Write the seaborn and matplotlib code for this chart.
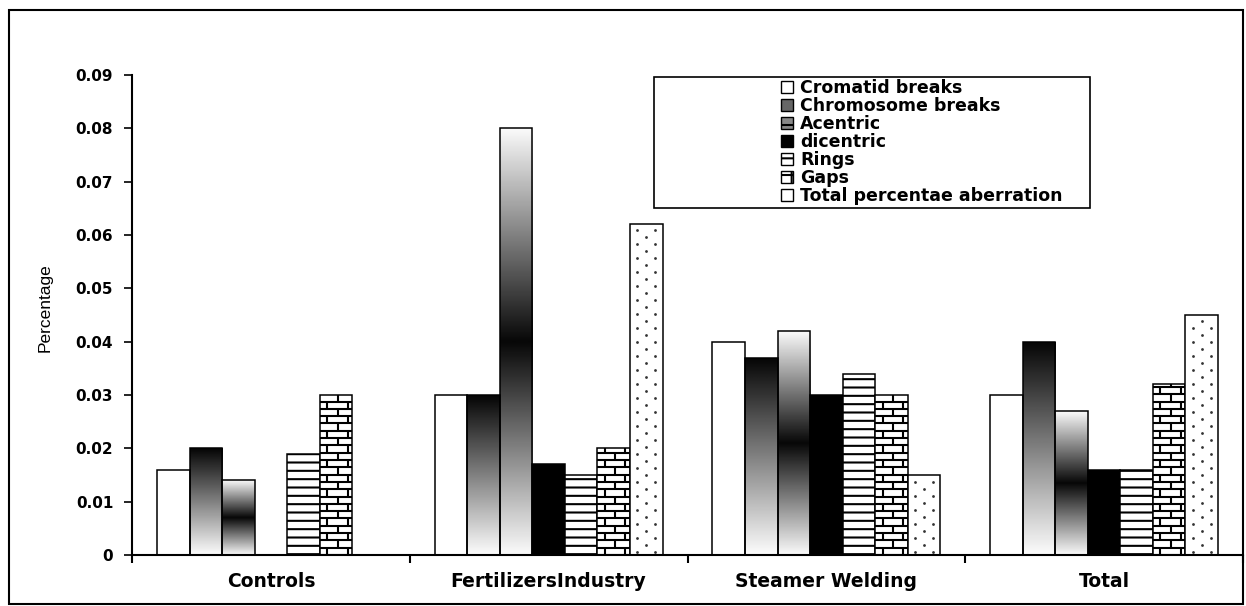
import numpy as np
import pandas as pd
import matplotlib
matplotlib.use("Agg")
import matplotlib.pyplot as plt
import seaborn as sns
from matplotlib.patches import Patch, Rectangle
from matplotlib.collections import LineCollection
from matplotlib.ticker import FixedLocator, FuncFormatter

# categories et series
groups = ["Controls", "FertilizersIndustry", "Steamer Welding", "Total"]
series = ["Cromatid breaks", "Chromosome breaks", "Acentric", "dicentric",
          "Rings", "Gaps", "Total percentae aberration"]

# valeurs
cromatid = [0.016, 0.030, 0.040, 0.030]
chromosome = [0.020, 0.030, 0.037, 0.040]
acentric = [0.014, 0.080, 0.042, 0.027]
dicentric = [0.0, 0.017, 0.030, 0.016]
rings = [0.019, 0.015, 0.034, 0.016]
gaps = [0.030, 0.020, 0.030, 0.032]
total_ab = [0.0, 0.062, 0.015, 0.045]

y_ticks = [0, 0.01, 0.02, 0.03, 0.04, 0.05, 0.06, 0.07, 0.08, 0.09]

values = [cromatid, chromosome, acentric, dicentric, rings, gaps, total_ab]
df = pd.DataFrame({
    "group": [g for s in series for g in groups],
    "series": [s for s in series for g in groups],
    "value": [v for vals in values for v in vals],
})

sns.set_theme(style="white")
plt.rcParams["font.family"] = ["DejaVu Sans"]
plt.rcParams["hatch.linewidth"] = 1.5
plt.rcParams["hatch.color"] = "black"

fig = plt.figure(figsize=(12.46, 6.06), dpi=100)
ax = fig.add_axes([132 / 1246, 51 / 606, 1111 / 1246, 480 / 606])

sns.barplot(data=df, x="group", y="value", hue="series", order=groups,
            hue_order=series, palette=["white"] * 7, saturation=1, width=0.82,
            edgecolor="black", linewidth=1.1, errorbar=None, legend=False, ax=ax)


def gradient(ax, bar, kind):
    # remplissage en degrade, coupe a la forme de la barre
    x0, w, h = bar.get_x(), bar.get_width(), bar.get_height()
    if h <= 0:
        return
    t = np.linspace(0, 1, 256)
    if kind == "fade":
        shade = 0.99 - 0.97 * t
    else:
        shade = 0.03 + 0.95 * np.abs(2 * t - 1)
    im = ax.imshow(shade[:, None], extent=[x0, x0 + w, 0, h], origin="lower",
                   cmap="gray", vmin=0, vmax=1, aspect="auto",
                   interpolation="bilinear", zorder=bar.get_zorder() - 0.01)
    im.set_clip_path(bar)
    bar.set_facecolor("none")


def bricks(ax, bar, row=0.00137):
    x0, w, h = bar.get_x(), bar.get_width(), bar.get_height()
    if h <= 0:
        return
    segs = []
    for r in range(int(h / row) + 1):
        y = r * row
        segs.append([(x0, y), (x0 + w, y)])
        off = 0.23 * w if r % 2 == 0 else 0.55 * w
        for xv in np.arange(x0 + off, x0 + w, 0.63 * w):
            segs.append([(xv, y), (xv, min(y + row, h))])
    lc = LineCollection(segs, colors="black", linewidths=1.5,
                        zorder=bar.get_zorder() + 0.01)
    ax.add_collection(lc)
    lc.set_clip_path(bar)


def dots(ax, bar, row=0.00131):
    # motif pointille en quinconce
    x0, w, h = bar.get_x(), bar.get_width(), bar.get_height()
    if h <= 0:
        return
    xs, ys = [], []
    for r in range(int(h / row)):
        y = (r + 0.5) * row
        cols = [0.23, 0.77] if r % 2 == 0 else [0.5]
        for c in cols:
            xs.append(x0 + c * w)
            ys.append(y)
    sc = ax.scatter(xs, ys, s=4, color="#333333", linewidths=0,
                    zorder=bar.get_zorder() + 0.01)
    sc.set_clip_path(bar)


for i, cont in enumerate(ax.containers):
    for bar in cont:
        if i == 1:
            gradient(ax, bar, "fade")
        elif i == 2:
            gradient(ax, bar, "band")
        elif i == 3:
            bar.set_facecolor("black")
        elif i == 4:
            bar.set_hatch("--")
        elif i == 5:
            bricks(ax, bar)
        elif i == 6:
            dots(ax, bar)

ax.set_xlim(-0.5, 3.5)
ax.set_ylim(0, 0.09)
ax.set_yticks(y_ticks)
ax.yaxis.set_major_formatter(FuncFormatter(lambda v, p: "0" if abs(v) < 1e-9 else f"{v:.2f}"))
ax.xaxis.set_minor_locator(FixedLocator(np.arange(-0.5, 4, 1.0)))
ax.tick_params(axis="x", which="major", length=0, pad=12, labelsize=13.5)
ax.tick_params(axis="x", which="minor", length=6, width=1.5, direction="out",
               bottom=True, color="black")
ax.tick_params(axis="y", length=5.5, width=1.2, direction="out", left=True,
               pad=8, labelsize=11, color="black")
for lbl in ax.get_xticklabels() + ax.get_yticklabels():
    lbl.set_fontweight("bold")
    lbl.set_color("black")

for side in ["top", "right"]:
    ax.spines[side].set_visible(False)
for side in ["left", "bottom"]:
    ax.spines[side].set_color("black")
    ax.spines[side].set_linewidth(1.5)
ax.grid(False)

ax.set_xlabel("")
ax.set_ylabel("Percentage", fontsize=12.5, family=["Liberation Sans", "DejaVu Sans"],
              color="black")
ax.yaxis.set_label_coords(-0.071, 0.515)

# legende dans une grande boite
handles = [
    Patch(facecolor="white", edgecolor="black", label=series[0]),
    Patch(facecolor="#666666", edgecolor="black", label=series[1]),
    Patch(facecolor="#888888", edgecolor="black", hatch="-", label=series[2]),
    Patch(facecolor="black", edgecolor="black", label=series[3]),
    Patch(facecolor="white", edgecolor="black", hatch="-", label=series[4]),
    Patch(facecolor="white", edgecolor="black", hatch="+", label=series[5]),
    Patch(facecolor="white", edgecolor="black", label=series[6]),
]
ax.add_patch(Rectangle((0.470, 0.723), 0.392, 0.273, transform=ax.transAxes,
                       facecolor="white", edgecolor="black", lw=1.2,
                       clip_on=False, zorder=4))
leg = ax.legend(handles=handles, loc="upper left", bbox_to_anchor=(0.584, 0.992),
                frameon=False, prop={"weight": "bold", "size": 12.5},
                handlelength=0.7, handleheight=0.7, handletextpad=0.4,
                labelspacing=0.0, borderpad=0, borderaxespad=0)
for txt in leg.get_texts():
    txt.set_color("black")

# cadre autour de la figure
fig.patches.append(Rectangle((9 / 1246, 2 / 606), 1234 / 1246, 594 / 606,
                             transform=fig.transFigure, fill=False,
                             edgecolor="black", lw=1.5))

fig.savefig("out.png", dpi=100)
